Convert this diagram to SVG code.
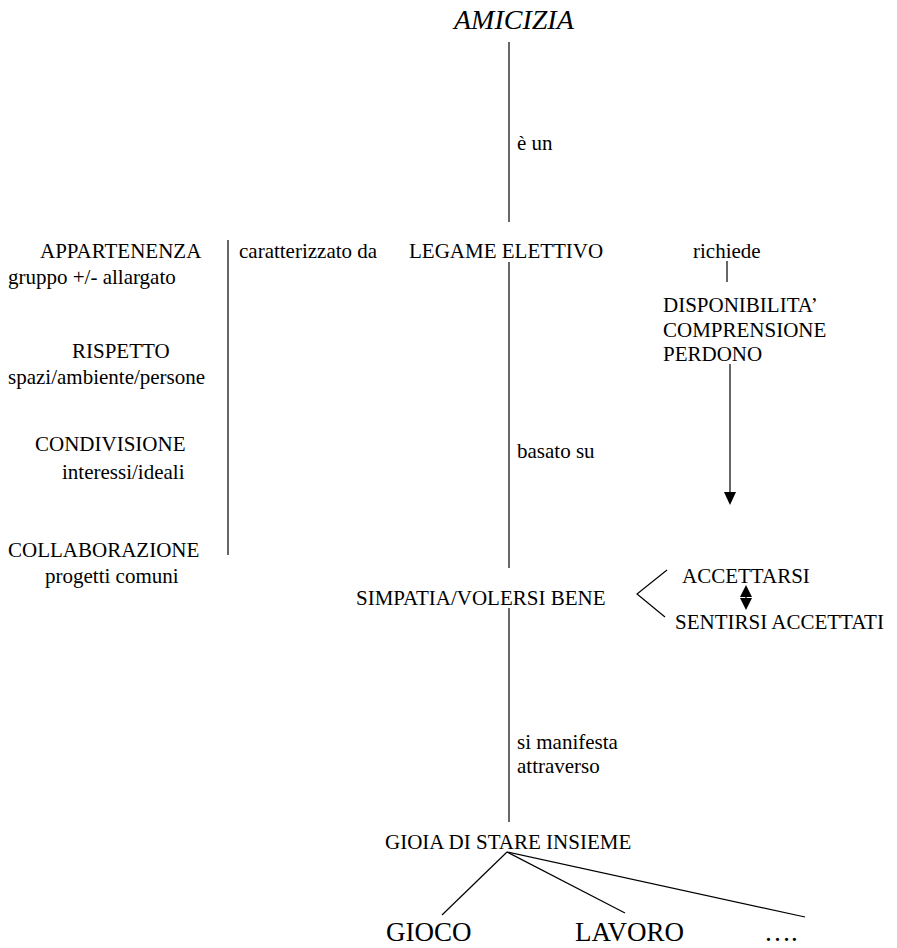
<svg xmlns="http://www.w3.org/2000/svg" width="897" height="948" viewBox="0 0 897 948">
<style>
text{font-family:"Liberation Serif","Times New Roman",serif;font-size:21px;fill:#000}
.big{font-size:27px}
.title{font-size:28px;font-style:italic}
.ln{stroke:#000;stroke-width:1.2;fill:none}
</style>
<rect width="897" height="948" fill="#fff"/>
<g id="connectors">
<line class="ln" x1="509" y1="42" x2="509" y2="222"/>
<line class="ln" x1="228" y1="240" x2="228" y2="555"/>
<line class="ln" x1="727" y1="261" x2="727" y2="282"/>
<line class="ln" x1="730" y1="364" x2="730" y2="493"/>
<path d="M724,492 L736,492 L730,505 Z" fill="#000"/>
<line class="ln" x1="509" y1="262" x2="509" y2="568"/>
<polyline class="ln" points="667,570 637,594 665,617"/>
<line class="ln" x1="746" y1="592" x2="746" y2="604"/>
<path d="M740,597 L746,585 L752,597 Z" fill="#000"/>
<path d="M740,598 L746,610 L752,598 Z" fill="#000"/>
<line class="ln" x1="509" y1="608" x2="509" y2="822"/>
<line class="ln" x1="507" y1="852" x2="442" y2="915"/>
<line class="ln" x1="507" y1="852" x2="625" y2="913"/>
<line class="ln" x1="507" y1="852" x2="805" y2="917"/>
<text x="517" y="150">è un</text>
<text x="239" y="258">caratterizzato da</text>
<text x="693" y="258">richiede</text>
<text x="517" y="458">basato su</text>
<text x="517" y="749">si manifesta</text>
<text x="517" y="773">attraverso</text>
</g>
<g id="amicizia"><text class="title" x="454" y="29">AMICIZIA</text></g>
<g id="legame"><text x="409" y="258">LEGAME ELETTIVO</text></g>
<g id="appartenenza"><text x="40" y="258">APPARTENENZA</text><text x="8" y="284">gruppo +/- allargato</text></g>
<g id="rispetto"><text x="72" y="358">RISPETTO</text><text x="8" y="384">spazi/ambiente/persone</text></g>
<g id="condivisione"><text x="35" y="451">CONDIVISIONE</text><text x="62" y="479">interessi/ideali</text></g>
<g id="collaborazione"><text x="8" y="557">COLLABORAZIONE</text><text x="45" y="583">progetti comuni</text></g>
<g id="disponibilita"><text x="663" y="312">DISPONIBILITA’</text><text x="663" y="337">COMPRENSIONE</text><text x="663" y="361">PERDONO</text></g>
<g id="simpatia"><text x="356" y="605">SIMPATIA/VOLERSI BENE</text></g>
<g id="accettarsi"><text x="682" y="583">ACCETTARSI</text></g>
<g id="sentirsi"><text x="675" y="629">SENTIRSI ACCETTATI</text></g>
<g id="gioia"><text x="385" y="849">GIOIA DI STARE INSIEME</text></g>
<g id="gioco"><text class="big" x="386" y="941">GIOCO</text></g>
<g id="lavoro"><text class="big" x="575" y="941">LAVORO</text></g>
<g id="altro"><text class="big" x="764" y="941">….</text></g>
</svg>
